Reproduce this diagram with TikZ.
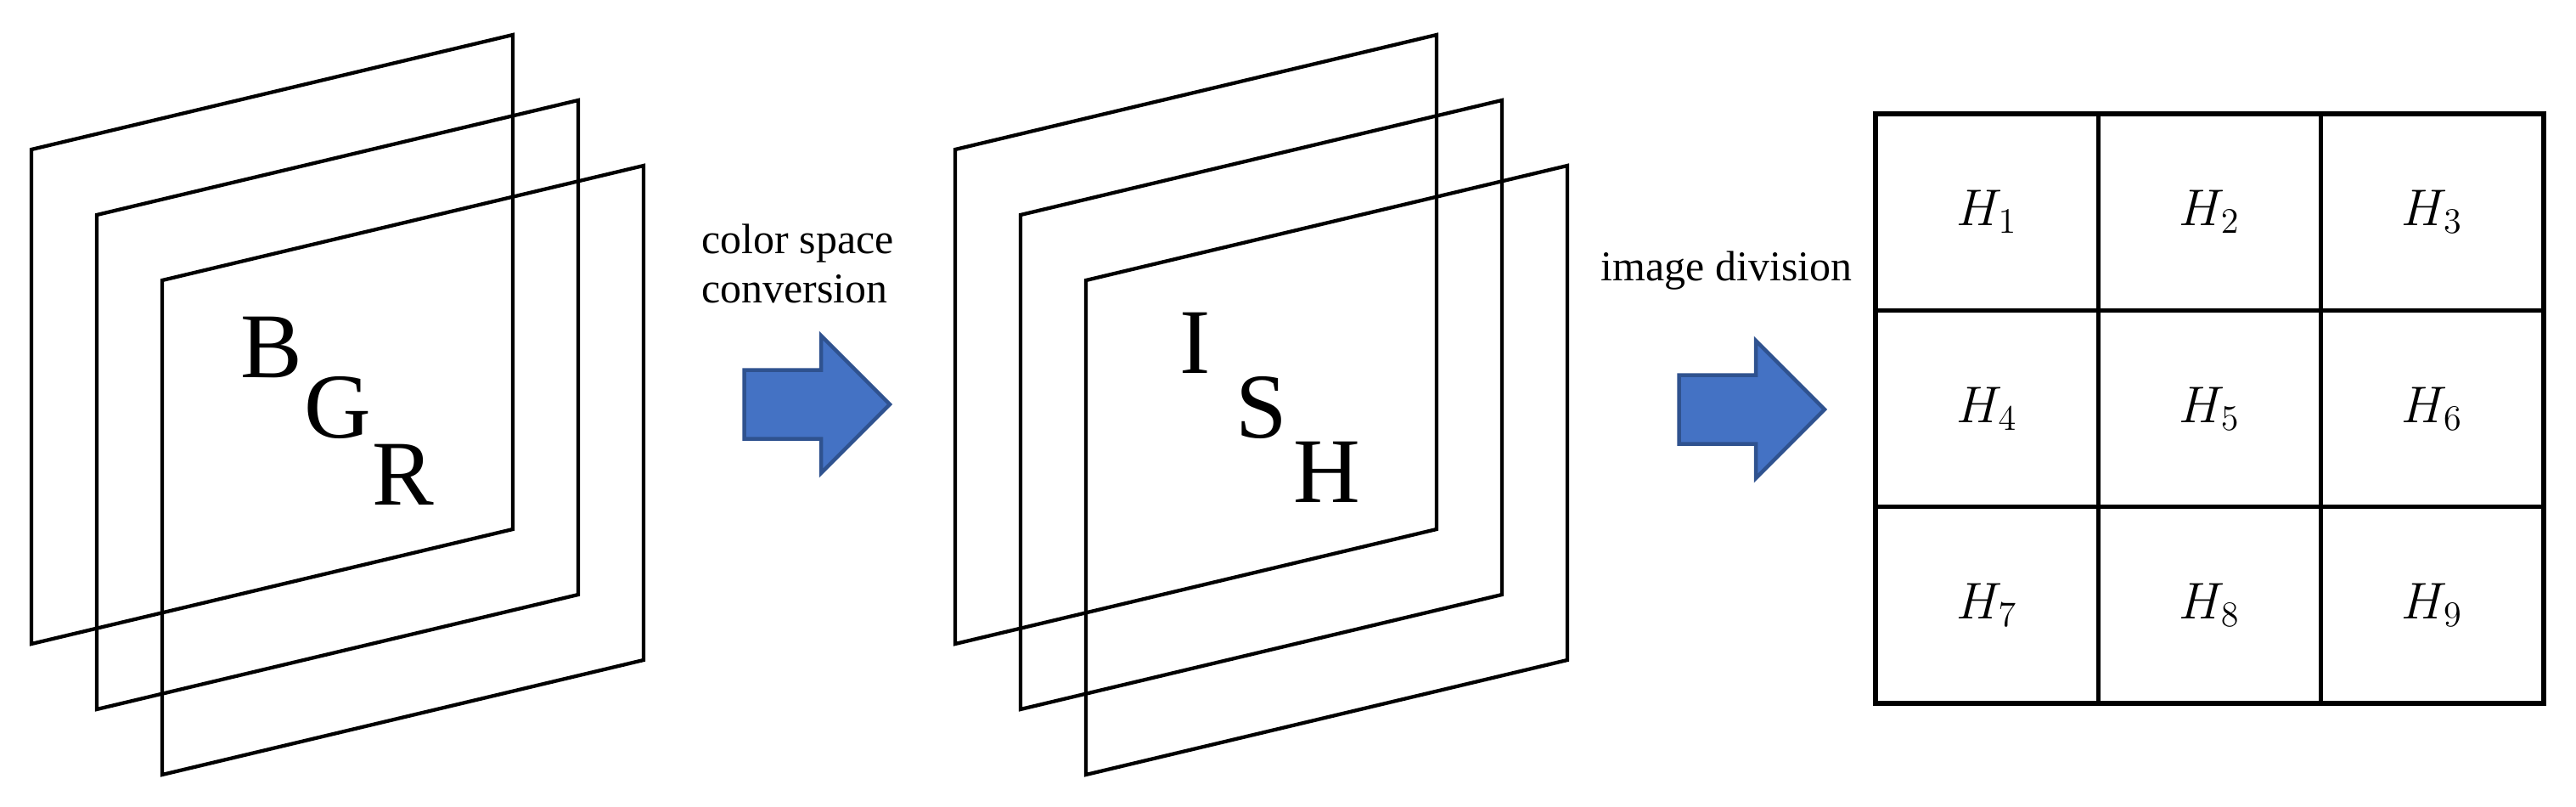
\documentclass[tikz,border=0pt]{standalone}
\usepackage{fontspec}
\setmainfont{Liberation Serif}
\newfontfamily\letterfont{Liberation Serif}
\usetikzlibrary{positioning,shapes.arrows}
\definecolor{arrowfill}{HTML}{4472C4}
\definecolor{arrowedge}{HTML}{2F528F}

\begin{document}
\begin{tikzpicture}[node distance=0.4cm]
  \tikzstyle{plane}=[line width=0.043cm,line join=miter]
  \tikzstyle{channel}=[inner sep=0pt,font=\letterfont\fontsize{31}{31}\selectfont]
  \tikzstyle{bigarrow}=[single arrow,draw=arrowedge,fill=arrowfill,line width=0.045cm,minimum height=1.715cm,inner xsep=0pt,inner ysep=0.3825cm,single arrow head extend=0.405cm,single arrow tip angle=90]
  \tikzstyle{caption}=[align=left,inner sep=0pt,font=\fontsize{14.2}{16.5}\selectfont]
  \tikzstyle{cell}=[draw,line width=0.053cm,minimum width=2.623cm,minimum height=2.313cm,inner sep=0pt,font=\fontsize{17.5}{17.5}\selectfont]

  \useasboundingbox (0,0) rectangle (30.34,-9.5);

  \begin{scope}
    % BGR planes
    \foreach \i in {0,1,2}
      \draw [plane] ({0.37+0.77*\i},{-1.76-0.77*\i}) -- ++(5.67,1.35)
        -- ++(0,-5.82) -- ++(-5.67,-1.35) -- cycle;
    \node [channel] (B) at (3.20,-4.09) {B};
    \node [channel] (G) at (3.98,-4.80) {G};
    \node [channel] (R) at (4.75,-5.59) {R};
  \end{scope}

  \begin{scope}
    % conversion step
    \node [bigarrow] (arrconv) at (9.42,-4.76) {};
    \node [caption,anchor=north west] (convlabel) at (8.26,-2.63) {color space\\conversion};
  \end{scope}

  \begin{scope}[xshift=10.88cm]
    % ISH planes
    \foreach \i in {0,1,2}
      \draw [plane] ({0.37+0.77*\i},{-1.76-0.77*\i}) -- ++(5.67,1.35)
        -- ++(0,-5.82) -- ++(-5.67,-1.35) -- cycle;
    \node [channel] (I) at (3.20,-4.04) {I};
    \node [channel] (S) at (3.98,-4.80) {S};
    \node [channel] (H) at (4.75,-5.56) {H};
  \end{scope}

  \begin{scope}
    % division step
    \node [bigarrow] (arrdiv) at (20.43,-4.82) {};
    \node [caption,anchor=base] (divlabel) at (20.335,-3.30) {image division};
  \end{scope}

  \begin{scope}
    % image blocks
    \foreach \r in {0,1,2}
      \foreach \c in {0,1,2} {
        \pgfmathtruncatemacro{\k}{3*\r+\c+1}
        \node [cell] (H\k) at ({22.09+1.3115+2.623*\c},{-1.34-1.1565-2.313*\r}) {$H_{\k}$};
      }
  \end{scope}
\end{tikzpicture}
\end{document}
